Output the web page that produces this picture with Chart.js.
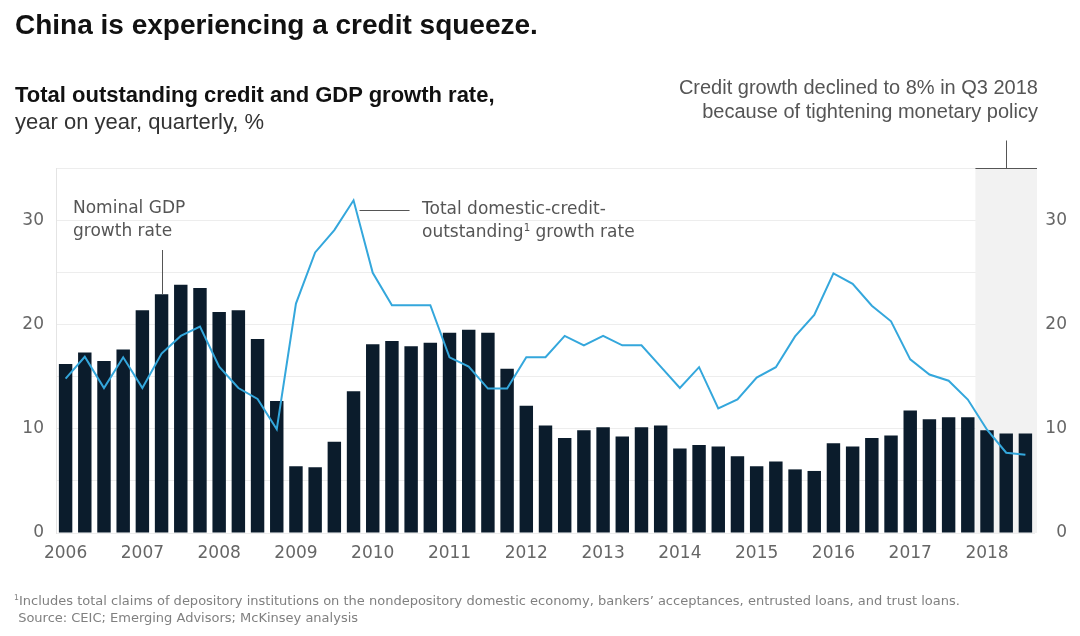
<!DOCTYPE html>
<html>
<head>
<meta charset="utf-8">
<script src="https://cdn.jsdelivr.net/npm/chart.js@4.4.0/dist/chart.umd.min.js"></script>
<style>
  html, body { margin: 0; padding: 0; background: #ffffff; }
  #wrap { position: relative; width: 1080px; height: 636px; overflow: hidden; background: #fff; }
  #c { position: absolute; left: 0; top: 0; }
  .t { position: absolute; white-space: nowrap; font-family: "Liberation Sans", Arial, sans-serif; }
  .title { left: 15px; top: 9px; font-size: 28px; font-weight: bold; color: #111; line-height: 32px; }
  .sub { left: 15px; top: 82px; font-size: 22px; font-weight: bold; color: #111; line-height: 26px; }
  .sub2 { left: 15px; top: 109px; font-size: 22px; color: #333; line-height: 26px; }
  .ann { right: 42px; top: 75px; font-size: 20px; color: #555; line-height: 24px; text-align: right; }
  .lab { font-family: "DejaVu Sans", sans-serif; font-size: 17px; color: #555; line-height: 23px; }
  .foot { left: 14px; top: 592px; font-family: "DejaVu Sans", sans-serif; font-size: 13px; color: #808080; line-height: 17px; }
  sup { font-size: 60%; line-height: 0; vertical-align: 0.6em; }
</style>
</head>
<body>
<div id="wrap">
  <canvas id="c" width="1080" height="636"></canvas>
  <div class="t title">China is experiencing a credit squeeze.</div>
  <div class="t sub">Total outstanding credit and GDP growth rate,</div>
  <div class="t sub2">year on year, quarterly, %</div>
  <div class="t ann">Credit growth declined to 8% in Q3 2018<br>because of tightening monetary policy</div>
  <div class="t lab" style="left:73px; top:196px;">Nominal GDP<br>growth rate</div>
  <div class="t lab" style="left:422px; top:197px;">Total domestic-credit-<br>outstanding<sup>1</sup> growth rate</div>
  <div class="t foot"><sup>1</sup>Includes total claims of depository institutions on the nondepository domestic economy, bankers’ acceptances, entrusted loans, and trust loans.<br>&nbsp;Source: CEIC; Emerging Advisors; McKinsey analysis</div>
</div>
<script>
// ---- data ----
const quarters = [
  '2006 Q1','2006 Q2','2006 Q3','2006 Q4',
  '2007 Q1','2007 Q2','2007 Q3','2007 Q4',
  '2008 Q1','2008 Q2','2008 Q3','2008 Q4',
  '2009 Q1','2009 Q2','2009 Q3','2009 Q4',
  '2010 Q1','2010 Q2','2010 Q3','2010 Q4',
  '2011 Q1','2011 Q2','2011 Q3','2011 Q4',
  '2012 Q1','2012 Q2','2012 Q3','2012 Q4',
  '2013 Q1','2013 Q2','2013 Q3','2013 Q4',
  '2014 Q1','2014 Q2','2014 Q3','2014 Q4',
  '2015 Q1','2015 Q2','2015 Q3','2015 Q4',
  '2016 Q1','2016 Q2','2016 Q3','2016 Q4',
  '2017 Q1','2017 Q2','2017 Q3','2017 Q4',
  '2018 Q1','2018 Q2','2018 Q3'
];
const yearTicks = ['2006','2007','2008','2009','2010','2011','2012','2013','2014','2015','2016','2017','2018'];
const gdpGrowth = [
  16.2, 17.3, 16.5, 17.6,
  21.35, 22.9, 23.8, 23.5,
  21.2, 21.35, 18.6, 12.65,
  6.4, 6.3, 8.75, 13.6,
  18.1, 18.4, 17.9, 18.25,
  19.2, 19.5, 19.2, 15.75,
  12.2, 10.3, 9.1, 9.85,
  10.15, 9.25, 10.15, 10.3,
  8.1, 8.45, 8.3, 7.35,
  6.4, 6.85, 6.1, 5.95,
  8.6, 8.3, 9.1, 9.35,
  11.75, 10.9, 11.1, 11.1,
  9.85, 9.55, 9.55
];
const creditGrowth = [
  14.8, 16.9, 13.9, 16.85,
  13.9, 17.2, 18.9, 19.8,
  15.95, 13.9, 12.85, 9.95,
  22.0, 26.9, 29.05, 31.9,
  24.95, 21.85, 21.85, 21.85,
  16.85, 15.95, 13.85, 13.85,
  16.85, 16.85, 18.9, 18.0,
  18.9, 18.0, 18.0, 15.95,
  13.9, 15.9, 11.95, 12.8,
  14.9, 15.9, 18.85, 20.9,
  24.9, 23.9, 21.8, 20.3,
  16.65, 15.2, 14.6, 12.8,
  9.9, 7.7, 7.5
];
const yTickLabels = ['0', '10', '20', '30'];
const highlightFrom = '2018 Q1';
const gdpPointer = '2007 Q2';
const creditPointer = '2009 Q4';

const tickFont = { family: 'DejaVu Sans', size: 17 };
const tickColor = '#666';

const annotations = {
  id: 'annotations',
  beforeDatasetsDraw(chart) {
    const { ctx, chartArea, scales } = chart;
    const x = scales.x;
    const idx = quarters.indexOf(highlightFrom);
    const half = (x.getPixelForValue(1) - x.getPixelForValue(0)) / 2;
    const left = x.getPixelForValue(idx) - half - 2;
    ctx.save();
    ctx.fillStyle = '#f2f2f2';
    ctx.fillRect(left, chartArea.top, chartArea.right + 2 - left, chartArea.bottom - chartArea.top);
    ctx.restore();
  },
  afterDatasetsDraw(chart) {
    const { ctx, chartArea, scales } = chart;
    const x = scales.x, y = scales.y;
    ctx.save();
    ctx.strokeStyle = '#555';
    ctx.lineWidth = 1;
    // GDP pointer
    const gi = quarters.indexOf(gdpPointer);
    const gx = Math.round(x.getPixelForValue(gi)) + 0.5;
    ctx.beginPath();
    ctx.moveTo(gx, 250);
    ctx.lineTo(gx, y.getPixelForValue(gdpGrowth[gi]));
    ctx.stroke();
    // credit pointer
    const ci = quarters.indexOf(creditPointer);
    const cx = x.getPixelForValue(ci);
    const cy = Math.round(y.getPixelForValue(creditGrowth[ci])) + 10.5;
    ctx.beginPath();
    ctx.moveTo(cx + 6, cy);
    ctx.lineTo(cx + 56, cy);
    ctx.stroke();
    // bracket over highlight
    const idx = quarters.indexOf(highlightFrom);
    const half = (x.getPixelForValue(1) - x.getPixelForValue(0)) / 2;
    const left = x.getPixelForValue(idx) - half - 2;
    const right = chartArea.right + 2;
    const top = Math.round(chartArea.top) + 0.5;
    ctx.beginPath();
    ctx.moveTo(left, top);
    ctx.lineTo(right, top);
    const mx = Math.round((left + right) / 2) + 0.5;
    ctx.moveTo(mx, top);
    ctx.lineTo(mx, top - 28);
    ctx.stroke();
    ctx.restore();
  }
};

new Chart(document.getElementById('c'), {
  data: {
    labels: quarters,
    datasets: [
      {
        type: 'line',
        label: 'Total domestic-credit-outstanding growth rate',
        data: creditGrowth,
        borderColor: '#34a7dc',
        borderWidth: 2,
        pointRadius: 0,
        tension: 0,
        yAxisID: 'y',
        order: 0
      },
      {
        type: 'bar',
        label: 'Nominal GDP growth rate',
        data: gdpGrowth,
        backgroundColor: '#0b1c2c',
        categoryPercentage: 1,
        barPercentage: 0.7,
        yAxisID: 'y',
        order: 1
      }
    ]
  },
  options: {
    responsive: false,
    animation: false,
    events: [],
    layout: { padding: { left: 0, right: 13, top: 168, bottom: 73 } },
    plugins: { legend: { display: false }, tooltip: { enabled: false }, title: { display: false } },
    scales: {
      x: {
        type: 'category',
        offset: true,
        grid: { display: false, drawTicks: false },
        border: { display: false },
        ticks: {
          autoSkip: false,
          maxRotation: 0,
          padding: 10,
          font: tickFont,
          color: tickColor,
          callback(v, i) {
            const q = quarters[i];
            if (q.endsWith('Q1')) {
              const yr = q.slice(0, 4);
              return yearTicks.includes(yr) ? yr : '';
            }
            return '';
          }
        },
        afterFit(s) { s.height = 30; }
      },
      y: {
        position: 'left',
        min: 0, max: 35,
        grid: { color: '#ededed', drawTicks: false, lineWidth: 1 },
        border: { display: true, color: '#e4e4e4' },
        ticks: {
          stepSize: 5,
          padding: 12,
          font: tickFont,
          color: tickColor,
          callback(v) { const s = String(v); return yTickLabels.includes(s) ? s : ''; }
        },
        afterFit(s) { s.width = 56; }
      },
      y2: {
        position: 'right',
        min: 0, max: 35,
        grid: { display: false, drawTicks: false },
        border: { display: false },
        ticks: {
          stepSize: 5,
          padding: 10,
          crossAlign: 'far',
          font: tickFont,
          color: tickColor,
          callback(v) { const s = String(v); return yTickLabels.includes(s) ? s : ''; }
        },
        afterFit(s) { s.width = 32; }
      }
    }
  },
  plugins: [annotations]
});
</script>
</body>
</html>
